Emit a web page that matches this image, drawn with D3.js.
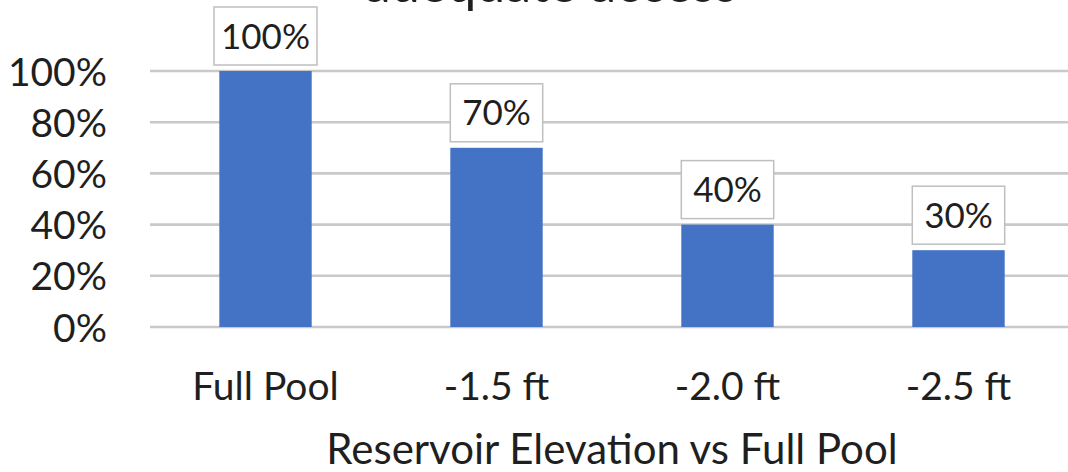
<!DOCTYPE html>
<html>
<head>
<meta charset="utf-8">
<script src="https://cdn.jsdelivr.net/npm/d3@7"></script>
<style>
  html, body { margin: 0; padding: 0; background: #fff; }
  svg { display: block; font-family: Lato, "Open Sans", sans-serif; }
</style>
</head>
<body>
<svg id="chart" width="1068" height="472"></svg>
<script>
// Share of sites with adequate access at each reservoir elevation
const categories = ["Full Pool", "-1.5 ft", "-2.0 ft", "-2.5 ft"];
const values = [1.0, 0.7, 0.4, 0.3];
const yTicks = [0, 0.2, 0.4, 0.6, 0.8, 1.0];
const titleText = "adequate access";
const xAxisTitle = "Reservoir Elevation vs Full Pool";

const svg = d3.select("#chart");
const margin = { left: 150, right: -6, top: 71, bottom: 145 };
const W = 1068, H = 472;

const x = d3.scaleBand()
  .domain(categories)
  .range([margin.left, W - margin.right])
  .paddingInner(0.6)
  .paddingOuter(0.3);

const y = d3.scaleLinear()
  .domain([0, 1])
  .range([H - margin.bottom, margin.top]);

const pct = d3.format(".0%");

// horizontal gridlines
svg.append("g")
  .selectAll("line")
  .data(yTicks)
  .join("line")
  .attr("x1", margin.left)
  .attr("x2", W)
  .attr("y1", d => y(d))
  .attr("y2", d => y(d))
  .attr("stroke", "#c9c9c9")
  .attr("stroke-width", 2.6);

// y axis labels
const yAxis = d3.axisLeft(y).tickValues(yTicks).tickFormat(pct).tickSize(0).tickPadding(0);
svg.append("g")
  .attr("transform", `translate(107,0)`)
  .call(yAxis)
  .call(g => g.select(".domain").remove())
  .call(g => g.selectAll("text")
    .attr("font-size", 39)
    .attr("font-family", "Lato, sans-serif")
    .attr("fill", "#1f1f1f")
    .attr("dy", "0.36em"));

// bars
svg.append("g")
  .selectAll("rect")
  .data(values)
  .join("rect")
  .attr("x", (d, i) => x(categories[i]))
  .attr("width", x.bandwidth())
  .attr("y", d => y(d))
  .attr("height", d => y(0) - y(d))
  .attr("fill", "#4472C4");

// boxed value labels above each bar
const labels = svg.append("g")
  .selectAll("g")
  .data(values)
  .join("g");

labels.each(function(d, i) {
  const g = d3.select(this);
  const cx = x(categories[i]) + x.bandwidth() / 2;
  const boxBottom = y(d) - 6;
  const boxH = 58;
  const t = g.append("text")
    .attr("x", cx)
    .attr("y", boxBottom - boxH / 2)
    .attr("dy", "0.36em")
    .attr("text-anchor", "middle")
    .attr("font-size", 35)
    .attr("fill", "#1f1f1f")
    .text(pct(d));
  const tw = t.node().getComputedTextLength();
  const bw = Math.max(x.bandwidth(), tw + 14);
  g.insert("rect", "text")
    .attr("x", cx - bw / 2)
    .attr("y", boxBottom - boxH)
    .attr("width", bw)
    .attr("height", boxH)
    .attr("fill", "#fff")
    .attr("stroke", "#bfbfbf")
    .attr("stroke-width", 1.5);
});

// category labels
const xAxis = d3.axisBottom(x).tickSize(0).tickPadding(0);
svg.append("g")
  .attr("transform", `translate(0,${y(0)})`)
  .call(xAxis)
  .call(g => g.select(".domain").remove())
  .call(g => g.selectAll("text")
    .attr("font-size", 39)
    .attr("font-family", "Lato, sans-serif")
    .attr("fill", "#1f1f1f")
    .attr("dy", 0)
    .attr("y", 73));

// axis title
svg.append("text")
  .attr("x", (margin.left + W - margin.right) / 2)
  .attr("y", 464)
  .attr("text-anchor", "middle")
  .attr("font-size", 42)
  .attr("fill", "#1f1f1f")
  .text(xAxisTitle);

// chart title (runs off the top edge)
svg.append("text")
  .attr("x", 551)
  .attr("y", 1.5)
  .attr("text-anchor", "middle")
  .attr("font-size", 52)
  .attr("fill", "#1f1f1f")
  .text(titleText);
</script>
</body>
</html>
